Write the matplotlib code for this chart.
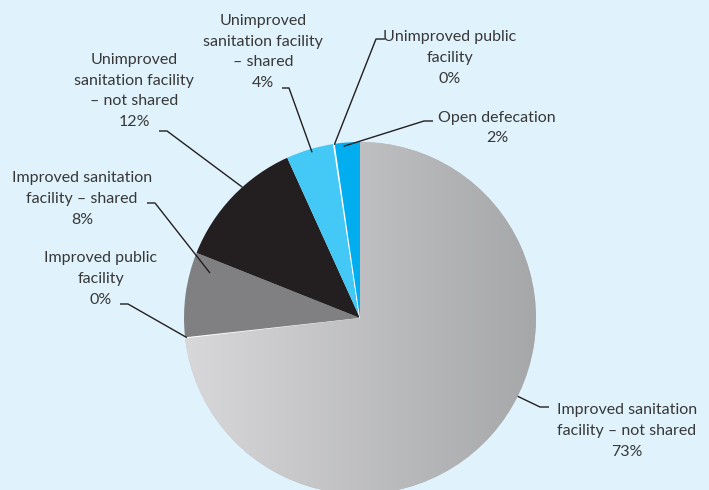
import numpy as np
import matplotlib
matplotlib.use("Agg")
import matplotlib.pyplot as plt
from matplotlib.colors import LinearSegmentedColormap

# slices, clockwise from 12 o'clock
labels = [
    "Improved sanitation\nfacility \u2013 not shared",
    "Improved public\nfacility",
    "Improved sanitation\nfacility \u2013 shared",
    "Unimproved\nsanitation facility\n\u2013 not shared",
    "Unimproved\nsanitation facility\n\u2013 shared",
    "Unimproved public\nfacility",
    "Open defecation",
]
shares = [73.3, 0.1, 7.8, 12.2, 4.4, 0.1, 2.3]
colors = ["#b9babc", "#d0d0d2", "#808083", "#231f20", "#44c8f5", "#ffffff", "#00aeef"]

# label layout (pixel coords, y measured from top of image)
text_xy = [(627, 431), (101, 279), (82, 199), (134, 91), (263, 52), (450, 58), (497, 128)]
elbow = [((549, 407), (540, 407)), ((120, 304), (128, 304)), ((147, 203), (155, 203)),
         ((159, 131), (167, 131)), ((282, 88), (289, 88)), ((385, 39), (376, 39)),
         ((433, 121), (424, 121))]
anchor_frac = [0.558, 0.5, 0.18, 0.40, 0.475, 0.5, 0.66]
anchor_rad = [1.0, 0.99, 0.89, 1.0, 0.98, 0.995, 0.98]

W, H = 709, 490
bg = "#e0f2fc"
txt_color = "#383838"
line_color = "#231f20"

fig = plt.figure(figsize=(W / 100, H / 100), dpi=100, facecolor=bg)
ax = fig.add_axes([0, 0, 1, 1])
ax.set_facecolor(bg)

cx, cy, r = 360, H - 318, 176

wedges, _ = ax.pie(shares, colors=colors, startangle=90, counterclock=False,
                   center=(cx, cy), radius=r, frame=True,
                   wedgeprops=dict(linewidth=0))
for w, v in zip(wedges, shares):
    if v < 0.5:
        w.set_edgecolor("white")
        w.set_linewidth(1.0)

# horizontal gradient on the big slice
grad = LinearSegmentedColormap.from_list("g", ["#d8d8da", "#a6a7a9"])
im = ax.imshow(np.linspace(0, 1, 256).reshape(1, -1), cmap=grad, aspect="auto",
               extent=[cx - r, cx + r, cy - r, cy + r], zorder=wedges[0].get_zorder() + 0.1)
im.set_clip_path(wedges[0])

for i, w in enumerate(wedges):
    th = np.deg2rad(w.theta1 + anchor_frac[i] * (w.theta2 - w.theta1))
    ax_ = cx + anchor_rad[i] * r * np.cos(th)
    ay_ = cy + anchor_rad[i] * r * np.sin(th)
    (x0, y0), (x1, y1) = elbow[i]
    ax.plot([x0, x1, ax_], [H - y0, H - y1, ay_], color=line_color, lw=1.0,
            solid_capstyle="butt", zorder=5)
    tx, ty = text_xy[i]
    ax.text(tx, H - ty, f"{labels[i]}\n{shares[i]:.0f}%", ha="center", va="center",
            fontsize=11.5, family="Lato", color=txt_color, linespacing=1.62, zorder=6)

ax.set_xlim(0, W)
ax.set_ylim(0, H)
ax.set_aspect("equal")
ax.axis("off")

fig.savefig("out.png", dpi=100, facecolor=bg)
